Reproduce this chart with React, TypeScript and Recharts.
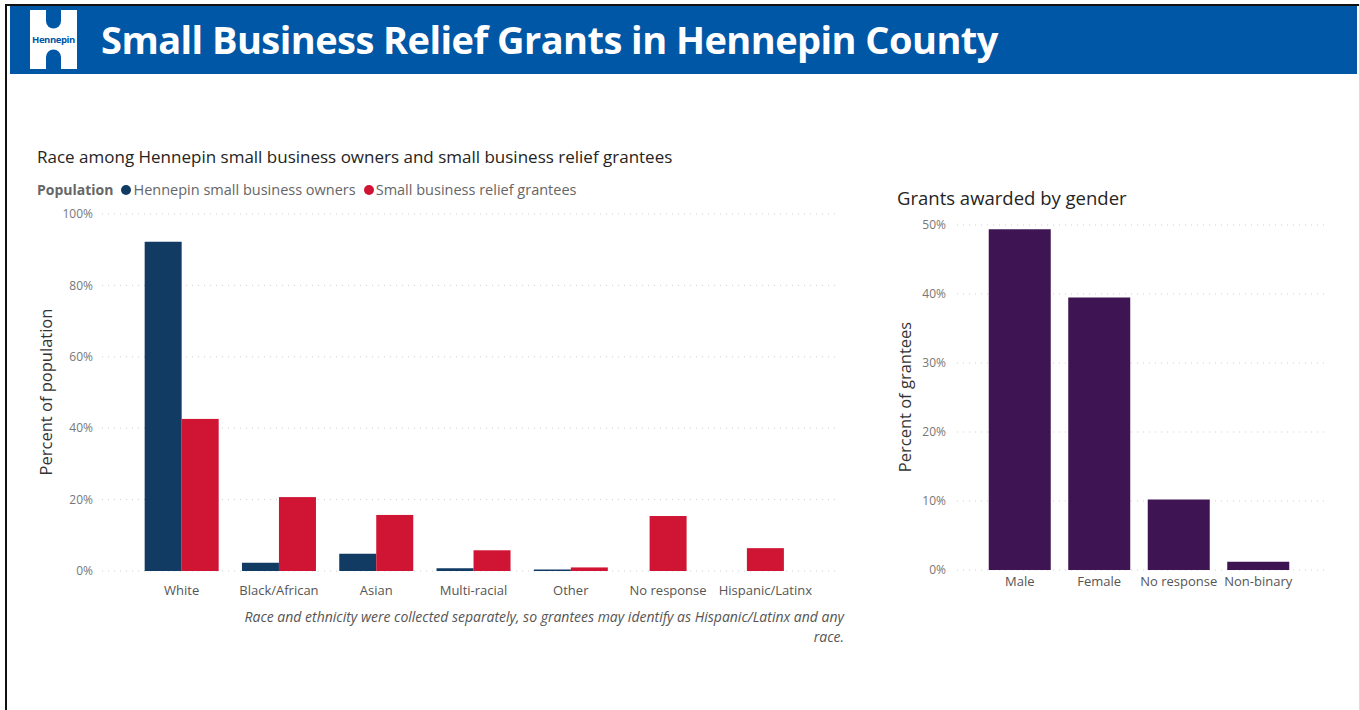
import React from "react";
import { BarChart, Bar, XAxis, YAxis, CartesianGrid } from "recharts";

// race chart
const raceCategories = ["White", "Black/African", "Asian", "Multi-racial", "Other", "No response", "Hispanic/Latinx"];
const ownersPct: (number | null)[] = [92.2, 2.3, 4.8, 0.8, 0.4, null, null];
const granteesPct = [42.6, 20.7, 15.7, 5.8, 1.0, 15.4, 6.4];
const raceTicks = [0, 20, 40, 60, 80, 100];

// gender chart
const genderCategories = ["Male", "Female", "No response", "Non-binary"];
const genderPct = [49.4, 39.5, 10.2, 1.2];
const genderTicks = [0, 10, 20, 30, 40, 50];

const seriesNames = ["Hennepin small business owners", "Small business relief grantees"];
const seriesColors = ["#123B64", "#CF1434"];
const purple = "#3E1452";

const FONT = "'Segoe UI', 'Open Sans', sans-serif";

const raceData = raceCategories.map((name, i) => ({
  name,
  owners: ownersPct[i],
  grantees: granteesPct[i],
}));

const genderData = genderCategories.map((name, i) => ({ name, pct: genderPct[i] }));

// Power BI centers the lone grantee bar when the owners value is blank
const GranteeShape = (props: any) => {
  const { x, y, width, height, payload, fill } = props;
  if (!height || height <= 0) return null;
  const shift = payload.owners == null ? -width / 2 : 0;
  return <rect x={x + shift} y={y} width={width} height={height} fill={fill} />;
};

const axisTitle = (x: number, y: number, text: string) => () => (
  <text
    x={x}
    y={y}
    transform={`rotate(-90 ${x} ${y})`}
    textAnchor="middle"
    dominantBaseline="central"
    fontSize={16.5}
    fill="#333"
    fontFamily={FONT}
  >
    {text}
  </text>
);

const pct = (v: number) => `${v}%`;

function Logo() {
  return (
    <svg width={50} height={62} style={{ position: "absolute", left: 29, top: 8 }}>
      <rect x={1} y={2} width={47} height={59} fill="#fff" />
      <path d="M17 2 H32 V13 A7.5 7.5 0 0 1 17 13 Z" fill="#0057A6" />
      <path d="M17 61 H32 V49 A7.5 7.5 0 0 0 17 49 Z" fill="#0057A6" />
      <text x={24.5} y={31} textAnchor="middle" dominantBaseline="central" fontSize={9.5} fontWeight={700} fill="#0057A6" fontFamily={FONT} letterSpacing={-0.4}>
        Hennepin
      </text>
    </svg>
  );
}

export default function App() {
  return (
    <div style={{ position: "absolute", left: 0, top: 0, width: 1360, height: 710, background: "#fff", fontFamily: FONT, overflow: "hidden" }}>
      {/* frame */}
      <div style={{ position: "absolute", left: 5, top: 4, width: 1354, height: 2, background: "#111" }} />
      <div style={{ position: "absolute", left: 5, top: 4, width: 2, height: 706, background: "#111" }} />
      <div style={{ position: "absolute", left: 1359, top: 4, width: 1, height: 706, background: "#ddd" }} />

      {/* header */}
      <div style={{ position: "absolute", left: 10, top: 6, width: 1347, height: 68, background: "#0057A6" }} />
      <Logo />
      <div style={{ position: "absolute", left: 101, top: 10, height: 58, lineHeight: "58px", color: "#fff", fontSize: 38, fontWeight: 700, whiteSpace: "nowrap", letterSpacing: -0.55 }}>
        Small Business Relief Grants in Hennepin County
      </div>

      {/* race chart */}
      <div style={{ position: "absolute", left: 37, top: 145, fontSize: 17, color: "#252423", whiteSpace: "nowrap" }}>
        Race among Hennepin small business owners and small business relief grantees
      </div>
      <div style={{ position: "absolute", left: 37, top: 180, fontSize: 14.5, color: "#666", whiteSpace: "nowrap", display: "flex", alignItems: "center" }}>
        <span style={{ fontWeight: 700, fontSize: 14, marginRight: 8 }}>Population</span>
        {seriesNames.map((s, i) => (
          <span key={s} style={{ display: "flex", alignItems: "center", marginRight: 8 }}>
            <span style={{ width: 10, height: 10, borderRadius: 5, background: seriesColors[i], marginRight: 2 }} />
            {s}
          </span>
        ))}
      </div>
      <div style={{ position: "absolute", left: 0, top: 200 }}>
        <BarChart width={860} height={420} data={raceData} margin={{ top: 14, right: 20, bottom: 19, left: 0 }} barCategoryGap="12%" barGap={0}>
          <CartesianGrid vertical={false} stroke="#cfcfcf" strokeDasharray="1 5" />
          <XAxis
            dataKey="name"
            height={30}
            axisLine={false}
            tickLine={false}
            tickSize={0}
            tickMargin={15}
            padding={{ left: 31, right: 26 }}
            tick={{ fontSize: 13, fill: "#555", fontFamily: FONT }}
            interval={0}
          />
          <YAxis
            width={102}
            domain={[0, 100]}
            ticks={raceTicks}
            tickFormatter={pct}
            axisLine={false}
            tickLine={false}
            tickSize={0}
            tickMargin={9}
            tick={{ fontSize: 12, fill: "#777", fontFamily: FONT }}
            label={{ content: axisTitle(45.5, 192, "Percent of population") }}
          />
          <Bar dataKey="owners" name={seriesNames[0]} fill={seriesColors[0]} isAnimationActive={false} />
          <Bar dataKey="grantees" name={seriesNames[1]} fill={seriesColors[1]} shape={GranteeShape} isAnimationActive={false} />
        </BarChart>
      </div>
      <div style={{ position: "absolute", left: 150, top: 607, width: 694, textAlign: "right", fontSize: 14, fontStyle: "italic", color: "#555", lineHeight: "20px" }}>
        Race and ethnicity were collected separately, so grantees may identify as Hispanic/Latinx and any
        <br />
        race.
      </div>

      {/* gender chart */}
      <div style={{ position: "absolute", left: 897, top: 185, fontSize: 18.5, color: "#252423", whiteSpace: "nowrap" }}>
        Grants awarded by gender
      </div>
      <div style={{ position: "absolute", left: 850, top: 210 }}>
        <BarChart width={500} height={400} data={genderData} margin={{ top: 15, right: 25, bottom: 10, left: 0 }} barCategoryGap="11%">
          <CartesianGrid vertical={false} stroke="#cfcfcf" strokeDasharray="1 5" />
          <XAxis
            dataKey="name"
            height={30}
            axisLine={false}
            tickLine={false}
            tickSize={0}
            tickMargin={7}
            padding={{ left: 23, right: 27 }}
            tick={{ fontSize: 13, fill: "#555", fontFamily: FONT }}
            interval={0}
          />
          <YAxis
            width={107}
            domain={[0, 50]}
            ticks={genderTicks}
            tickFormatter={pct}
            axisLine={false}
            tickLine={false}
            tickSize={0}
            tickMargin={11}
            tick={{ fontSize: 12, fill: "#777", fontFamily: FONT }}
            label={{ content: axisTitle(54.5, 187, "Percent of grantees") }}
          />
          <Bar dataKey="pct" fill={purple} isAnimationActive={false} />
        </BarChart>
      </div>
    </div>
  );
}
